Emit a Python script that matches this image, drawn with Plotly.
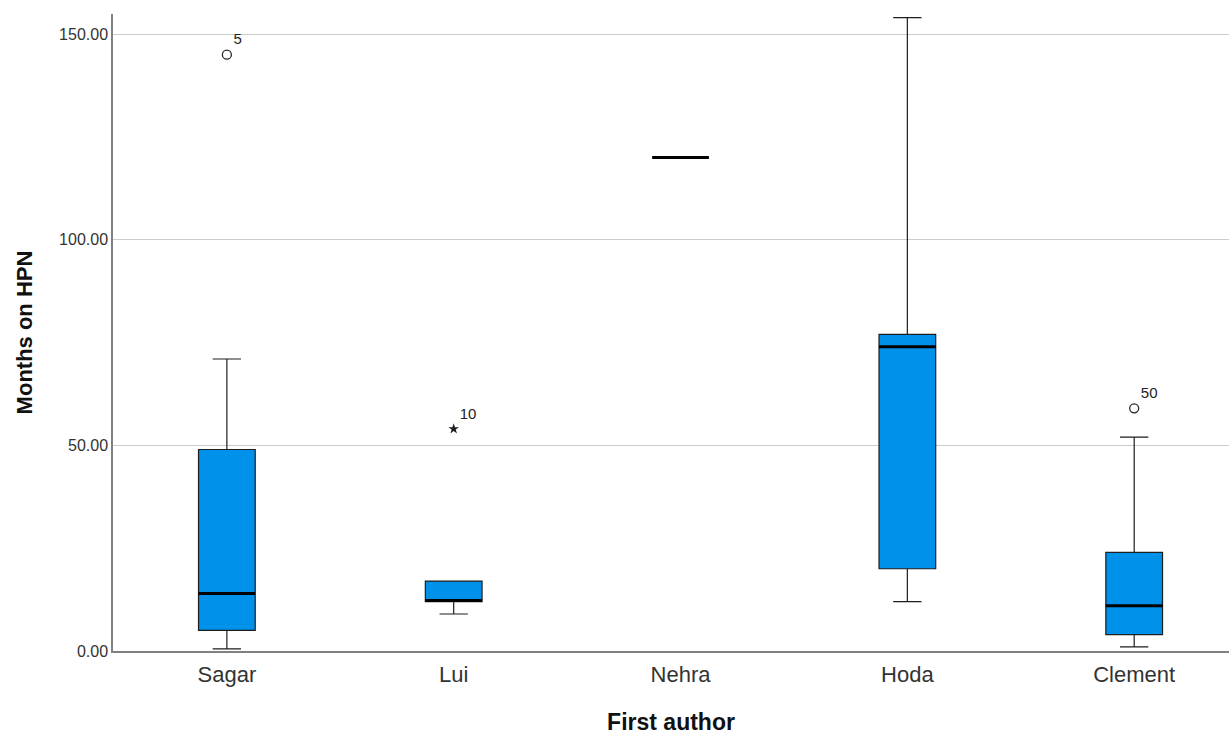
import plotly.graph_objects as go

authors = ["Sagar", "Lui", "Nehra", "Hoda", "Clement"]
q1 = [5.0, 12.0, 120.0, 20.0, 4.0]
median = [14.0, 12.3, 120.0, 74.0, 11.0]
q3 = [49.0, 17.0, 120.0, 77.0, 24.0]
lower_whisker = [0.5, 9.0, 120.0, 12.0, 1.0]
upper_whisker = [71.0, 17.0, 120.0, 154.0, 52.0]

outlier_author = ["Sagar", "Clement"]
outlier_value = [145.0, 59.0]
outlier_case = ["5", "50"]
extreme_author = ["Lui"]
extreme_value = [54.0]
extreme_case = ["10"]

box_color = "rgb(0,145,234)"
fig = go.Figure()
fig.add_trace(go.Box(
    x=authors, q1=q1, median=median, q3=q3,
    lowerfence=lower_whisker, upperfence=upper_whisker,
    fillcolor=box_color, line=dict(color="rgb(30,30,30)", width=1.2),
    width=0.25, whiskerwidth=0.5, boxpoints=False, showlegend=False,
    hoverinfo="skip",
))
for i, m in enumerate(median):
    fig.add_shape(type="line", xref="x", yref="y", x0=i - 0.125, x1=i + 0.125,
                  y0=m, y1=m, line=dict(color="black", width=3))

fig.add_trace(go.Scatter(
    x=outlier_author, y=outlier_value, mode="markers+text",
    marker=dict(symbol="circle-open", size=9, color="rgb(40,40,40)", line=dict(width=1.3)),
    text=outlier_case, textposition="top right",
    textfont=dict(family="Arial, Liberation Sans", size=15, color="#222"),
    showlegend=False, hoverinfo="skip",
))
fig.add_trace(go.Scatter(
    x=extreme_author, y=extreme_value, mode="markers+text",
    marker=dict(symbol="star", size=8, color="rgb(30,30,30)"),
    text=extreme_case, textposition="top right",
    textfont=dict(family="Arial, Liberation Sans", size=15, color="#222"),
    showlegend=False, hoverinfo="skip",
))

fig.update_layout(
    width=1231, height=735,
    margin=dict(l=113, r=2, t=14, b=84, autoexpand=False),
    plot_bgcolor="white", paper_bgcolor="white",
    font=dict(family="Arial, Liberation Sans", color="#222"),
)
fig.update_xaxes(
    type="category", categoryorder="array", categoryarray=authors,
    range=[-0.502, 4.418], showline=True, linecolor="#808080", linewidth=1.5,
    showgrid=False, ticks="", tickfont=dict(size=22, color="#333"), automargin=False,
    ticklabelstandoff=3,
    title=dict(text="<b>First author</b>", font=dict(size=23, color="#111"), standoff=46),
)
fig.update_yaxes(
    range=[0, 154.9], tickvals=[0, 50, 100, 150],
    ticktext=["0.00", "50.00", "100.00", "150.00"],
    showline=True, linecolor="#808080", linewidth=1.5,
    showgrid=True, gridcolor="#cccccc", gridwidth=1, zeroline=False,
    ticks="", tickfont=dict(size=16, color="#333"), automargin=False,
    title=dict(text="<b>Months on HPN</b>", font=dict(size=22, color="#111"), standoff=20),
)
fig.write_html("out.html", config={"displayModeBar": False},
               post_script="document.body.style.margin='0';document.body.style.overflow='hidden';")
